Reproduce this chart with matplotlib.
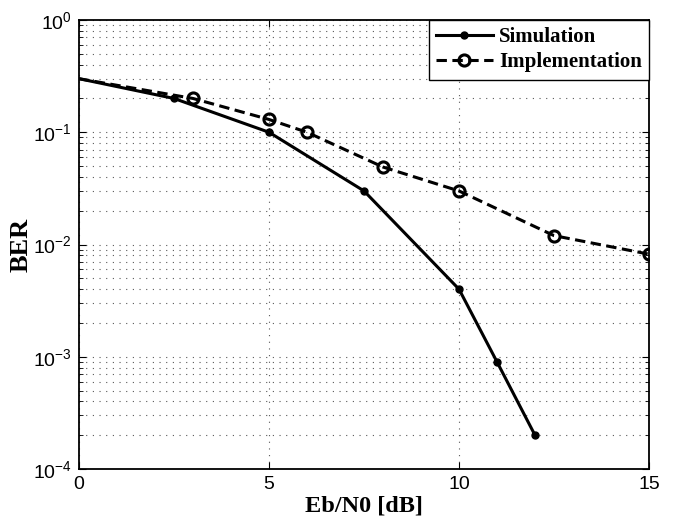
import numpy as np
import matplotlib
matplotlib.use("Agg")
import matplotlib.pyplot as plt
from matplotlib.ticker import LogLocator, NullFormatter, FixedLocator

plt.rcParams["mathtext.fontset"] = "custom"
plt.rcParams["mathtext.rm"] = "Liberation Sans"
plt.rcParams["mathtext.it"] = "Liberation Sans:italic"
plt.rcParams["mathtext.bf"] = "Liberation Sans:bold"
plt.rcParams["font.family"] = "Liberation Sans"

# === DATA ===
sim_ebn0 = [0, 2.5, 5, 7.5, 10, 11, 12]
sim_ber = [0.3, 0.2, 0.1, 0.03, 0.004, 0.0009, 0.0002]

impl_ebn0 = [0, 3, 5, 6, 8, 10, 12.5, 15]
impl_ber = [0.3, 0.2, 0.13, 0.1, 0.049, 0.03, 0.012, 0.0082]

x_ticks = [0, 5, 10, 15]

# === PLOT ===
fig = plt.figure(figsize=(6.73, 5.21), dpi=100)
ax = fig.add_axes([79 / 673, 1 - 469 / 521, 570 / 673, 449 / 521])

ax.semilogy(sim_ebn0, sim_ber, color="black", lw=2.2, marker="o", ms=5,
            markevery=list(range(1, len(sim_ebn0))), label="Simulation", zorder=4)
ax.semilogy(impl_ebn0, impl_ber, color="black", lw=2.2, ls=(0, (3.4, 1.8)),
            marker="o", ms=8, mfc="none", mew=2.2,
            markevery=list(range(1, len(impl_ebn0))), label="Implementation", zorder=3)

ax.set_xlim(0, 15)
ax.set_ylim(1e-4, 1)
ax.xaxis.set_major_locator(FixedLocator(x_ticks))
ax.yaxis.set_major_locator(LogLocator(base=10, numticks=10))
ax.yaxis.set_minor_locator(LogLocator(base=10, subs=np.arange(2, 10), numticks=20))
ax.yaxis.set_minor_formatter(NullFormatter())

ax.grid(True, which="major", axis="both", color="0.35", ls=(0, (1, 5)), lw=0.8)
ax.grid(True, which="minor", axis="y", color="0.35", ls=(0, (1, 5)), lw=0.8)

ax.tick_params(which="both", direction="in", top=True, right=True)
ax.tick_params(which="major", length=5, width=0.8, labelsize=14, pad=5)
ax.tick_params(which="minor", length=3, width=0.6)
for s in ax.spines.values():
    s.set_linewidth(1.3)

ax.set_xlabel("Eb/N0 [dB]", fontsize=17.5, fontweight="bold", family="Liberation Serif", labelpad=2)
ax.set_ylabel("BER", fontsize=19, fontweight="bold", family="Liberation Serif", labelpad=0)

leg = ax.legend(loc="upper right", borderaxespad=0, fancybox=False, framealpha=1,
                edgecolor="black", handlelength=2.7, handletextpad=0.3,
                prop={"family": "Liberation Serif", "weight": "bold", "size": 15},
                borderpad=0.35, labelspacing=0.25)
leg.get_frame().set_linewidth(1.0)

fig.savefig("out.png", dpi=100)
